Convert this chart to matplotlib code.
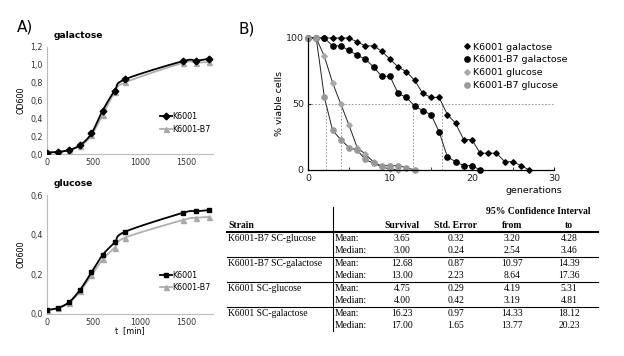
import numpy as np
import matplotlib
matplotlib.use("Agg")
import matplotlib.pyplot as plt
from matplotlib.ticker import FuncFormatter

# ---- panel A data: growth curves (OD600 vs t [min])
t_min = [0, 120, 240, 360, 480, 600, 730, 840, 1465, 1600, 1740]
gal_k6001 = [0.015, 0.022, 0.045, 0.10, 0.23, 0.485, 0.71, 0.835, 1.04, 1.043, 1.065]
gal_b7 = [0.02, 0.025, 0.045, 0.09, 0.21, 0.44, 0.69, 0.80, 1.02, 1.02, 1.03]
glu_k6001 = [0.02, 0.03, 0.06, 0.123, 0.21, 0.298, 0.361, 0.415, 0.511, 0.518, 0.524]
glu_b7 = [0.02, 0.03, 0.055, 0.115, 0.195, 0.275, 0.335, 0.385, 0.475, 0.485, 0.49]

# ---- panel B data: % viable cells per generation
k_gal = [100, 100, 100, 100, 100, 100, 97, 94, 94, 90, 84, 78, 74.5, 68, 58, 55, 55,
         42, 35.5, 23, 23, 12.7, 12.7, 12.7, 6.3, 6.3, 3.3, 0]
b7_gal = [100, 100, 100, 94, 94, 90.6, 87, 84, 78, 71, 71, 58, 55, 48.6, 45, 42, 29,
          10, 6.3, 3.3, 3.3, 0]
k_glu = [100, 100, 86, 66, 50, 34, 17, 12, 6, 2, 1, 0]
b7_glu = [100, 100, 55, 30, 23, 17, 15, 8, 5, 3.3, 3.3, 3.3, 1.8, 0]

# ---- table
strains = ["K6001-B7 SC-glucose", "K6001-B7 SC-galactose", "K6001 SC-glucose", "K6001 SC-galactose"]
mean_vals = [[3.65, 0.32, 3.20, 4.28], [12.68, 0.87, 10.97, 14.39],
             [4.75, 0.29, 4.19, 5.31], [16.23, 0.97, 14.33, 18.12]]
median_vals = [[3.00, 0.24, 2.54, 3.46], [13.00, 2.23, 8.64, 17.36],
               [4.00, 0.42, 3.19, 4.81], [17.00, 1.65, 13.77, 20.23]]
col_names = ["Survival", "Std. Error", "from", "to"]


def smooth(x, y, n=25):
    # bezier smoothing like a spreadsheet "smoothed line"
    x = np.asarray(x, float)
    y = np.asarray(y, float)
    px = np.concatenate([[x[0]], x, [x[-1]]])
    py = np.concatenate([[y[0]], y, [y[-1]]])
    t = np.linspace(0, 1, n)
    xs, ys = [], []
    for i in range(1, len(px) - 2):
        for p, out in ((px, xs), (py, ys)):
            p0, p1, p2, p3 = p[i - 1], p[i], p[i + 1], p[i + 2]
            c1 = p1 + (p2 - p0) / 6
            c2 = p2 - (p3 - p1) / 6
            out.extend((1 - t) ** 3 * p1 + 3 * (1 - t) ** 2 * t * c1 + 3 * (1 - t) * t ** 2 * c2 + t ** 3 * p2)
    return np.array(xs), np.array(ys)


def cross50(y):
    # generation where the curve first falls to 50 %
    for i in range(1, len(y)):
        if y[i] <= 50:
            return i - 1 + (y[i - 1] - 50) / (y[i - 1] - y[i])
    return len(y) - 1


plt.rcParams['font.family'] = 'DejaVu Sans'
fig = plt.figure(figsize=(6.24, 3.56), dpi=100)

comma = FuncFormatter(lambda v, p: ("%.1f" % v).replace(".", ","))


def growth_panel(rect, k_vals, b7_vals, kmark, ymax, yticks, title, loc_y):
    ax = fig.add_axes(rect)
    xs, ys = smooth(t_min, b7_vals)
    ax.plot(xs, ys, color='#b0b0b0', lw=1.3, zorder=2)
    ax.plot(t_min, b7_vals, ls='none', marker='^', ms=3.6, color='#aaaaaa', zorder=3)
    xs, ys = smooth(t_min, k_vals)
    ax.plot(xs, ys, color='black', lw=1.3, zorder=4)
    ax.plot(t_min, k_vals, ls='none', marker=kmark, ms=3.4, color='black', zorder=5)
    h1, = ax.plot([], [], color='black', lw=1.3, marker=kmark, ms=3.4)
    h2, = ax.plot([], [], color='#b0b0b0', lw=1.3, marker='^', ms=3.6, mfc='#aaaaaa', mec='#aaaaaa')
    ax.legend([h1, h2], ["K6001", "K6001-B7"], loc='upper left', bbox_to_anchor=(0.685, loc_y),
              frameon=False, fontsize=5.8, handlelength=1.4, handletextpad=0.1,
              labelspacing=0.45, borderpad=0, borderaxespad=0)
    ax.set_xlim(0, 1780)
    ax.set_ylim(0, ymax)
    ax.set_xticks([0, 500, 1000, 1500])
    ax.set_yticks(yticks)
    ax.yaxis.set_major_formatter(comma)
    for s in ['top', 'right']:
        ax.spines[s].set_visible(False)
    for s in ['left', 'bottom']:
        ax.spines[s].set_color('#bbbbbb')
        ax.spines[s].set_linewidth(0.8)
    ax.tick_params(labelsize=5.8, length=0, pad=3, colors='#333333')
    ax.set_ylabel("OD600", fontsize=5.8, labelpad=3)
    ax.text(0.04, 1.06, title, transform=ax.transAxes, fontsize=6.6, fontweight='bold',
            ha='left', va='bottom')
    return ax


ax1 = growth_panel([0.0748, 0.5674, 0.266, 0.3014], gal_k6001, gal_b7, 'D',
                   1.2, np.arange(0, 1.21, 0.2), "galactose", 0.39)
ax2 = growth_panel([0.0748, 0.118, 0.266, 0.334], glu_k6001, glu_b7, 's',
                   0.6, np.arange(0, 0.61, 0.2), "glucose", 0.365)
ax2.set_xlabel("t  [min]", fontsize=5.8, labelpad=-1)

fig.text(17 / 624, 1 - 32 / 356, "A)", fontsize=11)
fig.text(238 / 624, 1 - 33 / 356, "B)", fontsize=11)

# ---- panel B
axb = fig.add_axes([0.4936, 0.5225, 0.394, 0.3708])
line_kw = dict(color='#222222', lw=0.7)
axb.plot(range(len(k_gal)), k_gal, marker='D', ms=2.8, mfc='black', mec='black',
         label="K6001 galactose", clip_on=False, **line_kw)
axb.plot(range(len(b7_gal)), b7_gal, marker='o', ms=3.8, mfc='black', mec='black',
         label="K6001-B7 galactose", clip_on=False, **line_kw)
axb.plot(range(len(k_glu)), k_glu, marker='D', ms=2.8, mfc='#a8a8a8', mec='#a8a8a8',
         label="K6001 glucose", clip_on=False, **line_kw)
axb.plot(range(len(b7_glu)), b7_glu, marker='o', ms=3.8, mfc='#999999', mec='#999999',
         label="K6001-B7 glucose", clip_on=False, **line_kw)

dash_kw = dict(color='#888888', lw=0.6, ls=(0, (2, 2)), zorder=0)
axb.plot([0, 30], [50, 50], **dash_kw)
for ser in (b7_glu, k_glu, b7_gal, k_gal):
    xc = cross50(ser)
    axb.plot([xc, xc], [0, 50], **dash_kw)

axb.set_xlim(0, 30)
axb.set_ylim(0, 100)
axb.set_xticks([0, 10, 20, 30])
axb.set_xticks([5, 15, 25], minor=True)
axb.set_yticks([0, 50, 100])
for s in ['top', 'right']:
    axb.spines[s].set_visible(False)
for s in ['left', 'bottom']:
    axb.spines[s].set_linewidth(0.9)
axb.tick_params(which='both', direction='in', length=2, labelsize=6.8, pad=3, colors='#222222')
axb.set_ylabel("% viable cells", fontsize=6.8, labelpad=1)
axb.set_xlabel("generations", fontsize=6.8, ha='right')
axb.xaxis.set_label_coords(1.035, -0.12)
leg = axb.legend(loc='upper left', bbox_to_anchor=(0.615, 1.0), frameon=False, fontsize=6.8,
                 handlelength=0.6, handletextpad=0.4, labelspacing=0.4, borderpad=0)
for h in leg.legend_handles:
    h.set_linestyle('none')

# ---- table (pixel layout)
axt = fig.add_axes([0, 0, 1, 1])
axt.set_xlim(0, 624)
axt.set_ylim(356, 0)
axt.axis('off')
serif = dict(family='Liberation Serif', fontsize=6.9, va='center')
col_x = [402, 456, 512, 569]
axt.text(538, 212, "95% Confidence Interval", ha='center', fontweight='bold', **serif)
axt.text(228, 225, "Strain", ha='left', fontweight='bold', **serif)
for cx, name in zip(col_x, col_names):
    axt.text(cx, 225, name, ha='center', fontweight='bold', **serif)
axt.plot([227, 598], [231.5, 231.5], color='black', lw=1.5)
axt.plot([332.5, 332.5], [207, 331], color='black', lw=0.8)
for g, strain in enumerate(strains):
    y0 = 238.5 + g * 25
    axt.text(228, y0, strain, ha='left', **serif)
    axt.text(335, y0, "Mean:", ha='left', **serif)
    axt.text(335, y0 + 12, "Median:", ha='left', **serif)
    for cx, mv, dv in zip(col_x, mean_vals[g], median_vals[g]):
        axt.text(cx, y0, "%.2f" % mv, ha='center', **serif)
        axt.text(cx, y0 + 12, "%.2f" % dv, ha='center', **serif)
    if g < len(strains) - 1:
        axt.plot([227, 598], [y0 + 18, y0 + 18], color='black', lw=0.8)

fig.savefig("out.png", dpi=100)
